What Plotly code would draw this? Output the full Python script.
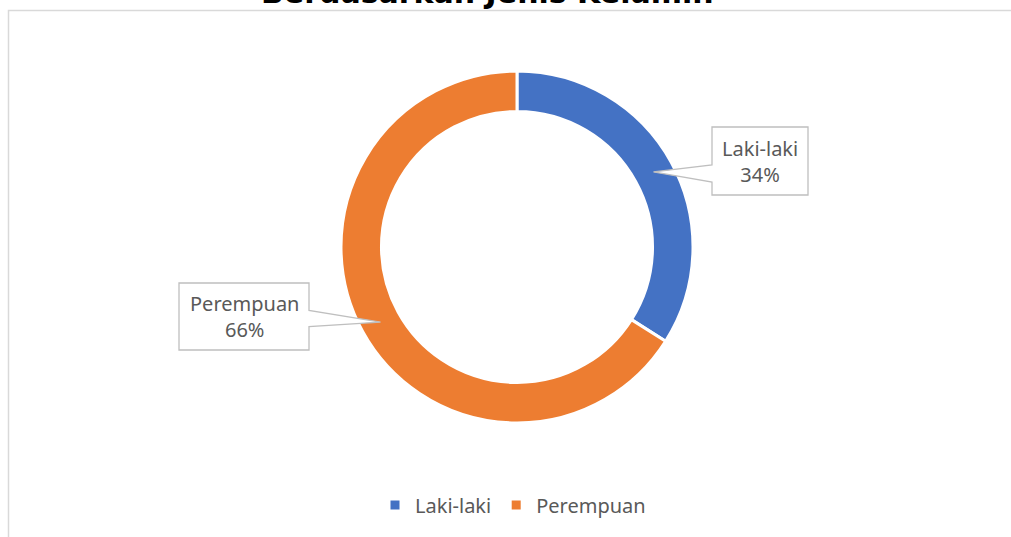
import math
import plotly.graph_objects as go

# ---- data ----
categories = ["Laki-laki", "Perempuan"]
values = [34, 66]
colors = ["#4472C4", "#ED7D31"]
title_text = "Berdasarkan Jenis Kelamin"

# ---- layout constants (page pixels; body margin removed) ----
W, H = 1011, 537
CX, CY = 517, 247          # donut centre
R_OUT = 176
HOLE = 0.77
R_MID = R_OUT * (1 + HOLE) / 2

def px(x):
    return x / W

def py(y):
    return 1 - y / H

# callout boxes: (x0, y0, x1, y1) in pixels
boxes = [(712, 127, 808, 195), (179, 283, 309, 350)]

fig = go.Figure()
fig.add_trace(go.Pie(
    labels=categories,
    values=values,
    hole=HOLE,
    sort=False,
    direction="clockwise",
    rotation=0,
    marker=dict(colors=colors, line=dict(color="white", width=3)),
    textinfo="none",
    hoverinfo="label+percent",
    domain=dict(x=[px(CX - R_OUT), px(CX + R_OUT)], y=[py(CY + R_OUT), py(CY - R_OUT)]),
))

shapes = []
annotations = []
total = sum(values)
cum = 0
for cat, v, (x0, y0, x1, y1) in zip(categories, values, boxes):
    mid = (cum + v / 2) / total * 2 * math.pi
    cum += v
    tx = CX + R_MID * math.sin(mid)
    ty = CY - R_MID * math.cos(mid)
    ym = (y0 + y1) / 2
    if tx > x1:  # pointer on right side of box
        pts = [(x0, y0), (x1, y0), (x1, ym - 6), (tx, ty), (x1, ym + 10), (x1, y1), (x0, y1)]
    else:        # pointer on left side of box
        pts = [(x0, y0), (x1, y0), (x1, y1), (x0, y1), (x0, ym + 21), (tx, ty), (x0, ym + 4)]
    path = "M " + " L ".join(f"{px(a):.5f},{py(b):.5f}" for a, b in pts) + " Z"
    shapes.append(dict(type="path", xref="paper", yref="paper", path=path,
                       fillcolor="white", line=dict(color="#BFBFBF", width=1.3), layer="above"))
    pct = round(v / total * 100)
    annotations.append(dict(
        x=px((x0 + x1) / 2), y=py(ym), xref="paper", yref="paper",
        text=f"{cat}<br>{pct}%", showarrow=False, align="center",
        font=dict(family="Noto Sans", size=20, color="#595959"),
        xanchor="center", yanchor="middle",
    ))

# chart-area border (partially outside the window)
shapes.insert(0, dict(type="rect", xref="paper", yref="paper",
                      x0=px(8.5), x1=1.05, y0=-0.05, y1=py(10.5),
                      line=dict(color="#D9D9D9", width=1.5), fillcolor="rgba(0,0,0,0)", layer="below"))

# clipped title (only its lower part shows, as in the reference)
annotations.append(dict(
    x=px(487), y=py(12), xref="paper", yref="paper", text=f"<b>{title_text}</b>",
    showarrow=False, xanchor="center", yanchor="bottom",
    font=dict(family="DejaVu Sans", size=30, color="black"),
))

fig.update_layout(
    width=W, height=H,
    margin=dict(l=0, r=0, t=0, b=0),
    paper_bgcolor="white", plot_bgcolor="white",
    showlegend=True,
    legend=dict(orientation="h", x=px(513), xanchor="center", y=py(505), yanchor="middle",
                font=dict(family="Noto Sans", size=20, color="#595959"),
                itemwidth=30),
    shapes=shapes,
    annotations=annotations,
)

fig.write_html("out.html",
               config={"displayModeBar": False},
               post_script="document.body.style.margin='0';document.body.style.overflow='hidden';")
